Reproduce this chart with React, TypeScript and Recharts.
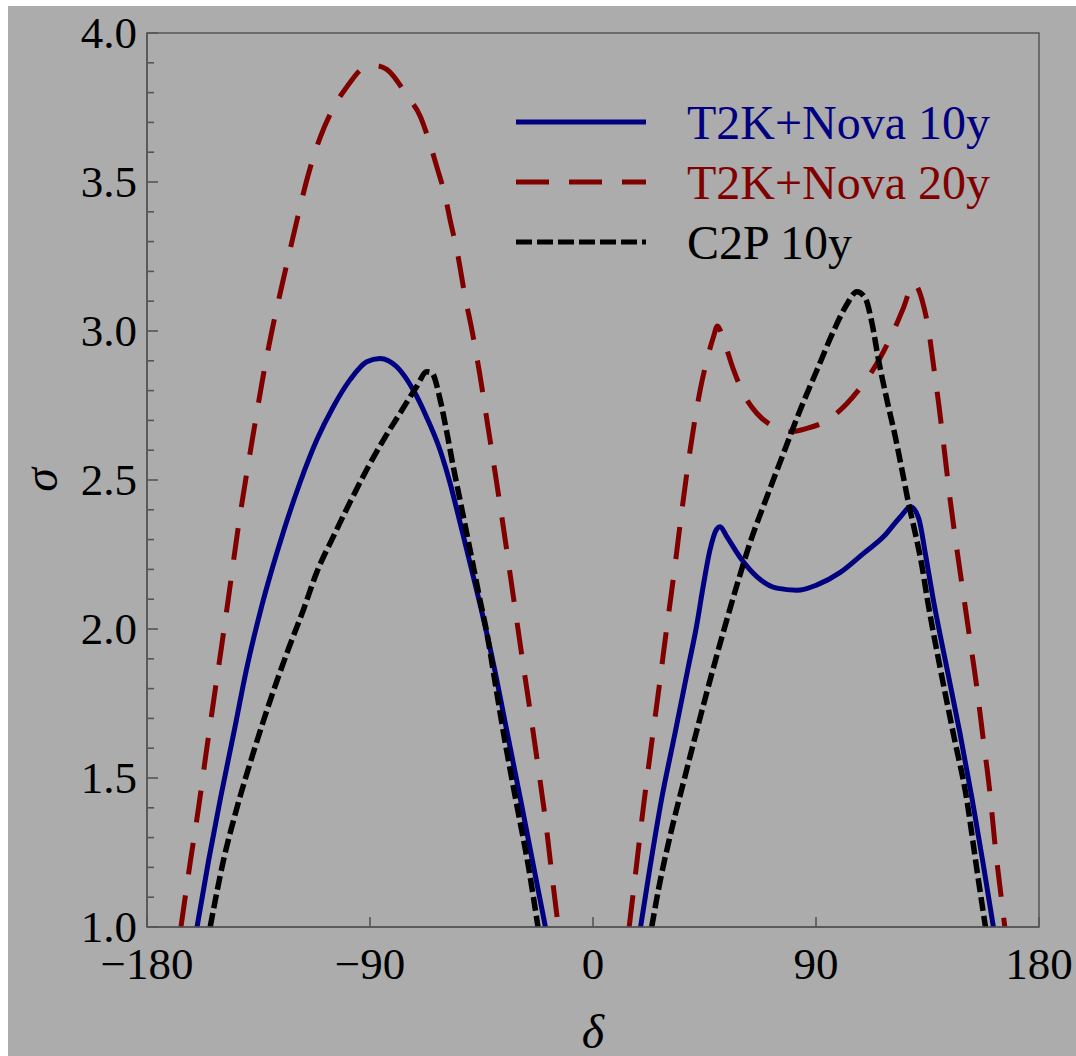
import { LineChart, Line, XAxis, YAxis, Legend, ReferenceArea } from 'recharts'

const SERIF = '"Liberation Serif", "Times New Roman", serif'
const BG = '#acacac'
const FRAME = '#555555'
const BLUE = '#000080'
const RED = '#800000'
const BLACK = '#000000'

const X_TICKS = [-180, -90, 0, 90, 180]
const Y_TICKS = [
  1.0, 1.1, 1.2, 1.3, 1.4, 1.5, 1.6, 1.7, 1.8, 1.9, 2.0, 2.1, 2.2, 2.3, 2.4, 2.5, 2.6, 2.7, 2.8, 2.9,
  3.0, 3.1, 3.2, 3.3, 3.4, 3.5, 3.6, 3.7, 3.8, 3.9, 4.0,
]
const Y_LABELS = ['1.0', '1.5', '2.0', '2.5', '3.0', '3.5', '4.0']

// T2K+Nova 10y (solid blue)
const t2k10DeltaL = [
  -159.8, -155.1, -150.4, -145.0, -139.6, -133.6, -125.0, -118.3, -111.5, -104.8, -98.1, -91.3, -86.0,
  -79.2, -72.4, -67.1, -61.7, -57.7, -53.6, -49.6, -45.5, -40.1, -34.7, -29.3, -23.9, -19.2,
]
const t2k10SigmaL = [
  1.0, 1.225, 1.43, 1.65, 1.874, 2.08, 2.325, 2.49, 2.634, 2.746, 2.836, 2.897, 2.908,
  2.88, 2.8, 2.71, 2.6, 2.49, 2.355, 2.22, 2.08, 1.88, 1.655, 1.43, 1.2, 1.0,
]
const t2k10DeltaR = [
  19.2, 23.0, 27.7, 33.1, 38.5, 41.8, 44.5, 47.2, 49.9, 51.3, 54.0, 59.4, 66.1, 74.2, 82.3, 90.4,
  99.8, 109.2, 117.3, 124.1, 128.2, 131.5, 134.2, 137.3, 142.7, 148.1, 153.0, 157.5, 161.6,
]
const t2k10SigmaR = [
  1.0, 1.2, 1.43, 1.65, 1.874, 2.01, 2.145, 2.265, 2.335, 2.343, 2.31, 2.24, 2.176, 2.137, 2.13, 2.148,
  2.19, 2.254, 2.31, 2.377, 2.41, 2.37, 2.25, 2.1, 1.874, 1.65, 1.43, 1.21, 1.0,
]

// T2K+Nova 20y (long dashes, dark red)
const t2k20DeltaL = [
  -166.3, -162.5, -159.2, -156.2, -153.1, -150.1, -147.2, -143.2, -139.8, -136.4, -133.1, -129.6, -124.8,
  -119.8, -115.4, -110.1, -104.7, -99.3, -91.2, -87.5, -83.1, -75.1, -69.7, -65.7, -63.0, -59.6, -57.6,
  -54.9, -51.5, -48.8, -45.6, -42.6, -39.6, -35.8, -32.0, -28.7, -25.3, -22.2, -19.2, -16.5, -14.0,
]
const t2k20SigmaL = [
  1.0, 1.22, 1.4, 1.58, 1.76, 1.93, 2.1, 2.34, 2.52, 2.69, 2.85, 3.0, 3.18,
  3.36, 3.51, 3.65, 3.75, 3.82, 3.888, 3.89, 3.877, 3.79, 3.72, 3.625, 3.55, 3.45, 3.37,
  3.27, 3.11, 3.0, 2.85, 2.69, 2.53, 2.32, 2.1, 1.91, 1.72, 1.54, 1.36, 1.17, 1.0,
]
const t2k20DeltaR = [
  14.6, 17.6, 20.3, 23.4, 26.6, 29.7, 32.9, 35.9, 39.2, 43.2, 45.9, 48.6, 50.2, 52.7, 56.7, 60.7,
  66.1, 72.8, 79.6, 86.3, 94.4, 102.5, 109.2, 115.9, 121.3, 125.4, 129.4, 132.8, 135.5, 137.5, 139.5,
  141.5, 144.2, 146.9, 149.6, 151.5, 154.8, 157.5, 160.2, 162.2, 164.9, 166.2,
]
const t2k20SigmaR = [
  1.0, 1.21, 1.4, 1.6, 1.8, 2.0, 2.2, 2.4, 2.6, 2.8, 2.9, 2.98, 3.017, 2.97, 2.87, 2.79,
  2.724, 2.68, 2.662, 2.673, 2.7, 2.757, 2.824, 2.91, 3.0, 3.08, 3.16, 3.104, 3.0, 2.88, 2.757,
  2.62, 2.43, 2.265, 2.11, 2.0, 1.81, 1.63, 1.45, 1.28, 1.09, 1.0,
]

// C2P 10y (short dashes, black)
const c2pDeltaL = [
  -154.5, -149.1, -143.7, -136.9, -130.3, -123.5, -116.9, -111.5, -104.8, -98.1, -91.3, -84.6, -77.9,
  -71.2, -67.1, -65.1, -61.7, -59.0, -56.4, -53.6, -49.6, -45.6, -42.9, -39.5, -36.1, -31.0, -26.0, -22.2,
]
const c2pSigmaL = [
  1.0, 1.225, 1.4, 1.59, 1.76, 1.92, 2.064, 2.19, 2.31, 2.425, 2.535, 2.634, 2.724,
  2.813, 2.863, 2.86, 2.77, 2.66, 2.545, 2.43, 2.265, 2.097, 1.99, 1.82, 1.65, 1.42, 1.2, 1.0,
]
const c2pDeltaR = [
  23.7, 26.4, 31.1, 36.5, 41.9, 48.6, 52.6, 58.0, 63.4, 70.2, 76.9, 83.6, 90.4, 97.1, 102.5, 106.5,
  109.9, 112.6, 115.3, 118.6, 122.0, 124.7, 127.4, 130.1, 132.8, 135.0, 140.0, 145.4, 150.8, 154.8, 158.4,
]
const c2pSigmaR = [
  1.0, 1.125, 1.305, 1.485, 1.66, 1.87, 1.99, 2.145, 2.29, 2.444, 2.59, 2.735, 2.869, 3.0, 3.09, 3.132,
  3.11, 3.026, 2.9, 2.77, 2.645, 2.534, 2.42, 2.32, 2.21, 2.097, 1.874, 1.65, 1.43, 1.2, 1.0,
]

type Pt = { d: number; s: number | null }

// join the two lobes with a null so the line breaks below sigma = 1
function lobes(dl: number[], sl: number[], dr: number[], sr: number[]): Pt[] {
  const left = dl.map((d, i) => ({ d, s: sl[i] }))
  const right = dr.map((d, i) => ({ d, s: sr[i] }))
  return [...left, { d: 0, s: null }, ...right]
}

const t2k10Data = lobes(t2k10DeltaL, t2k10SigmaL, t2k10DeltaR, t2k10SigmaR)
const t2k20Data = lobes(t2k20DeltaL, t2k20SigmaL, t2k20DeltaR, t2k20SigmaR)
const c2pData = lobes(c2pDeltaL, c2pSigmaL, c2pDeltaR, c2pSigmaR)

const LEGEND_ITEMS = [
  { label: 'T2K+Nova 10y', color: BLUE, dash: undefined as string | undefined },
  { label: 'T2K+Nova 20y', color: RED, dash: '33 20' },
  { label: 'C2P 10y', color: BLACK, dash: '16 5' },
]

function LegendBox() {
  return (
    <svg width={520} height={200}>
      {LEGEND_ITEMS.map((it, i) => {
        const y = 36 + i * 60
        return (
          <g key={it.label}>
            <line x1={8} x2={138} y1={y} y2={y} stroke={it.color} strokeWidth={5} strokeDasharray={it.dash} />
            <text x={179} y={y} dominantBaseline="central" fill={it.color} fontSize={48} fontFamily={SERIF}>
              {it.label}
            </text>
          </g>
        )
      })}
    </svg>
  )
}

function YTick(props: any) {
  const { x, y, payload } = props
  const label = Y_LABELS.find((l) => Math.abs(Number(l) - payload.value) < 1e-6)
  return (
    <g>
      <line x1={x} x2={x + (label ? 11 : 7)} y1={y} y2={y} stroke={FRAME} strokeWidth={1.6} />
      {label && (
        <text x={x - 10} y={y} textAnchor="end" dominantBaseline="central" fontSize={45} fontFamily={SERIF} fill="#000">
          {label}
        </text>
      )}
    </g>
  )
}

function XTick(props: any) {
  const { x, y, payload } = props
  const v = payload.value as number
  const txt = v < 0 ? `\u2212${Math.abs(v)}` : `${v}`
  return (
    <g>
      <line x1={x} x2={x} y1={y} y2={y - 10} stroke={FRAME} strokeWidth={1.6} />
      <text x={x} y={y + 52} textAnchor="middle" fontSize={45} fontFamily={SERIF} fill="#000">
        {txt}
      </text>
    </g>
  )
}

export default function App() {
  return (
    <div style={{ position: 'fixed', left: 8, top: 6, width: 1068, height: 1050, background: BG }}>
      <LineChart width={1068} height={1050} margin={{ top: 27, right: 37, bottom: 69, left: 0 }}>
        <XAxis
          dataKey="d"
          type="number"
          domain={[-180, 180]}
          ticks={X_TICKS}
          interval={0}
          allowDataOverflow
          height={60}
          tickSize={0}
          tickMargin={0}
          tick={<XTick />}
          axisLine={{ stroke: FRAME, strokeWidth: 1.5 }}
          label={(p: any) => (
            <text
              x={p.viewBox.x + p.viewBox.width / 2}
              y={p.viewBox.y + 104}
              textAnchor="middle"
              dominantBaseline="central"
              fontSize={48}
              fontStyle="italic"
              fontFamily={SERIF}
              fill="#000"
            >
              δ
            </text>
          )}
        />
        <YAxis
          type="number"
          domain={[1, 4]}
          ticks={Y_TICKS}
          interval={0}
          allowDataOverflow
          width={139}
          tickSize={0}
          tickMargin={0}
          tick={<YTick />}
          axisLine={{ stroke: FRAME, strokeWidth: 1.5 }}
          label={(p: any) => {
            const cx = p.viewBox.x + 32
            const cy = p.viewBox.y + p.viewBox.height / 2
            return (
              <text
                x={cx}
                y={cy}
                transform={`rotate(-90 ${cx} ${cy})`}
                textAnchor="middle"
                dominantBaseline="central"
                fontSize={48}
                fontStyle="italic"
                fontFamily={SERIF}
                fill="#000"
              >
                σ
              </text>
            )
          }}
        />
        <ReferenceArea x1={-180} x2={180} y1={1} y2={4} fill="none" stroke={FRAME} strokeWidth={1.5} />
        <Legend
          layout="vertical"
          align="center"
          verticalAlign="middle"
          wrapperStyle={{ left: 500, top: 80, width: 520, height: 200 }}
          content={() => <LegendBox />}
        />
        <Line
          data={t2k10Data}
          dataKey="s"
          type="monotone"
          stroke={BLUE}
          strokeWidth={5}
          dot={false}
          activeDot={false}
          isAnimationActive={false}
        />
        <Line
          data={t2k20Data}
          dataKey="s"
          type="monotone"
          stroke={RED}
          strokeWidth={5}
          strokeDasharray="32 21"
          dot={false}
          activeDot={false}
          isAnimationActive={false}
        />
        <Line
          data={c2pData}
          dataKey="s"
          type="monotone"
          stroke={BLACK}
          strokeWidth={5.5}
          strokeDasharray="14 5"
          dot={false}
          activeDot={false}
          isAnimationActive={false}
        />
      </LineChart>
    </div>
  )
}
